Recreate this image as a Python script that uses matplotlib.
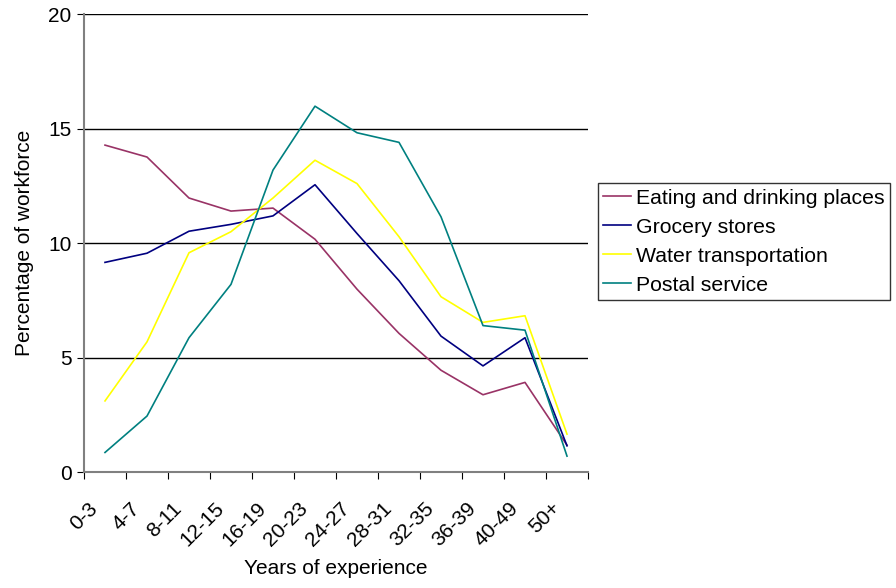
import matplotlib.pyplot as plt
from matplotlib.transforms import ScaledTranslation

plt.rcParams['font.family'] = ['Liberation Sans', 'DejaVu Sans']

years = ['0-3', '4-7', '8-11', '12-15', '16-19', '20-23', '24-27',
         '28-31', '32-35', '36-39', '40-49', '50+']

eating = [14.28, 13.76, 11.97, 11.4, 11.53, 10.17, 7.99, 6.06, 4.45, 3.38, 3.92, 1.18]
grocery = [9.16, 9.56, 10.52, 10.82, 11.19, 12.55, 10.42, 8.36, 5.94, 4.64, 5.87, 1.15]
water = [3.11, 5.69, 9.58, 10.5, 11.97, 13.62, 12.6, 10.28, 7.66, 6.54, 6.83, 1.66]
postal = [0.86, 2.45, 5.87, 8.2, 13.19, 15.98, 14.82, 14.4, 11.15, 6.4, 6.2, 0.7]

series = [
    ('Eating and drinking places', eating, '#993366'),
    ('Grocery stores', grocery, '#000080'),
    ('Water transportation', water, '#FFFF00'),
    ('Postal service', postal, '#008080'),
]

fig = plt.figure(figsize=(8.96, 5.88), dpi=100)
ax = fig.add_axes([0.09375, 0.197, 0.5625, 0.779])

x = range(len(years))
for name, vals, col in series:
    ax.plot(x, vals, color=col, lw=1.2, label=name)

ax.set_xlim(-0.5, len(years) - 0.5)
ax.set_ylim(0, 20)
ax.set_yticks([0, 5, 10, 15, 20])
for v in [5, 10, 15, 20]:
    ax.axhline(v, color='black', lw=1, zorder=0)

# category ticks sit on the boundaries, labels at the centres
ax.set_xticks([i - 0.5 for i in range(len(years) + 1)])
ax.set_xticklabels([])
ax.set_xticks(list(x), minor=True)
ax.set_xticklabels(years, minor=True, rotation=45, ha='right', va='center',
                   rotation_mode='anchor', fontsize=15)
ax.tick_params(axis='x', which='minor', length=0, pad=24)
ax.tick_params(axis='x', which='major', length=5, color='black')
ax.tick_params(axis='y', labelsize=15, length=5, pad=4)
shift = ScaledTranslation(-10 / 100, 0, fig.dpi_scale_trans)
for lab in ax.get_xticklabels(minor=True):
    lab.set_transform(lab.get_transform() + shift)

for s in ['top', 'right']:
    ax.spines[s].set_visible(False)
ax.spines['left'].set_color('#808080')
ax.spines['left'].set_linewidth(1.5)
ax.spines['bottom'].set_color('#808080')
ax.spines['bottom'].set_linewidth(1.5)

ax.set_xlabel('Years of experience', fontsize=15)
ax.xaxis.set_label_coords(0.5, -0.19)
ax.set_ylabel('Percentage of workforce', fontsize=15)
ax.yaxis.set_label_coords(-0.1, 0.5)

leg = ax.legend(loc='center left', bbox_to_anchor=(1.02, 0.503), fontsize=15.3,
                frameon=True, fancybox=False, edgecolor='black',
                handlelength=1.3, handletextpad=0.25, borderpad=0.25,
                labelspacing=0.47, borderaxespad=0)
leg.get_frame().set_linewidth(1)

fig.savefig('out.png', dpi=100)
